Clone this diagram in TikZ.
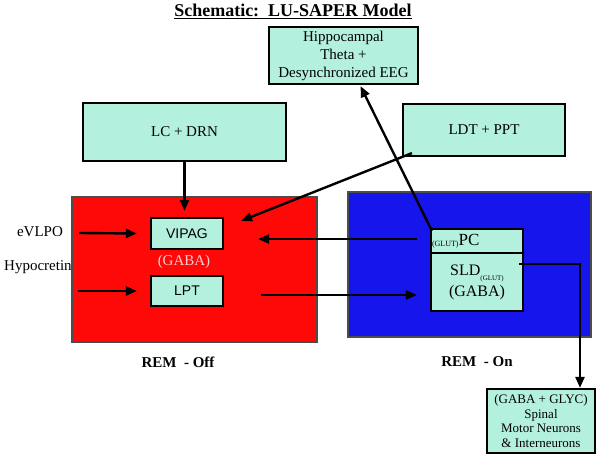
\documentclass[tikz,border=0pt]{standalone}
\usepackage{fontspec}
\setmainfont{Liberation Serif}
\newfontfamily\sansf{Liberation Sans}
\usetikzlibrary{arrows.meta}
\definecolor{boxfill}{RGB}{180,240,222}
\definecolor{offred}{RGB}{255,8,8}
\definecolor{onblue}{RGB}{22,22,236}
\definecolor{gabapink}{RGB}{255,205,210}
\begin{document}
\begin{tikzpicture}[x=1pt,y=-1pt,
  box/.style={draw=black, line width=2.2pt, fill=boxfill, inner sep=0pt, align=center},
  region/.style={draw=black!70, line width=1.2pt, inner sep=0pt},
  arr/.style={line width=2.4pt, -{Triangle[length=11pt,width=9pt]}},
  lbl/.style={inner sep=0pt, font=\fontsize{15}{18}\selectfont}]
\useasboundingbox[fill=white] (0,0) rectangle (600,457);

% title
\node[inner sep=0pt, font=\bfseries\fontsize{18}{21}\selectfont] (title) at (293,11)
  {\underline{Schematic:\ \ LU-SAPER\ Model}};

% side labels
\node[lbl] (evlpo) at (40,232) {eVLPO};
\node[lbl, anchor=west] (hypo) at (4,267) {Hypocretin};

% regions
\node[region, fill=offred, minimum width=245pt, minimum height=145pt] (off) at (194.5,269.5) {};
\node[region, fill=onblue, minimum width=243pt, minimum height=145pt] (on) at (469.5,264.5) {};

% boxes
\node[box, minimum width=149pt, minimum height=57pt, font=\fontsize{15}{18}\selectfont] (hippo) at (343.5,55.5)
  {Hippocampal\\Theta +\\Desynchronized EEG};
\node[box, minimum width=203pt, minimum height=58pt, font=\fontsize{15}{18}\selectfont] (lc) at (184.5,132) {LC + DRN};
\node[box, minimum width=162pt, minimum height=52pt, font=\fontsize{15}{18}\selectfont] (ldt) at (484,130) {LDT + PPT};
\node[box, minimum width=72pt, minimum height=31pt, font=\sansf\fontsize{14}{17}\selectfont] (vipag) at (187,233.5) {VIPAG};
\node[box, minimum width=72pt, minimum height=30pt, font=\sansf\fontsize{14}{17}\selectfont] (lpt) at (187,291) {LPT};
\node[lbl, text=gabapink] (gaba) at (184,262) {(GABA)};
\node[box, minimum width=92pt, minimum height=24pt, text width=90pt, align=left, inner sep=1pt,
  font=\fontsize{17}{19}\selectfont] (pc) at (477,241)
  {\raisebox{-1pt}{\fontsize{8}{9}\selectfont(GLUT)}PC};
\node[box, minimum width=92pt, minimum height=58pt, font=\fontsize{16}{21}\selectfont] (sld) at (477,282)
  {SLD\raisebox{-5pt}{\fontsize{7}{8}\selectfont(GLUT)}\\(GABA)};
\node[box, minimum width=108pt, minimum height=64pt, font=\fontsize{13}{14.5}\selectfont] (spinal) at (541,421)
  {(GABA + GLYC)\\Spinal\\Motor Neurons\\\& Interneurons};

% state labels
\node[lbl, font=\bfseries\fontsize{15}{18}\selectfont] (remoff) at (178,362) {REM\ \ -\ Off};
\node[lbl, font=\bfseries\fontsize{15}{18}\selectfont] (remon) at (477,362) {REM\ \ -\ On};

% connectors
\draw[arr, shorten >=6pt] (lc.south) -- (lc.south |- vipag.north);
\draw[arr] ([shift={(10,-4)}]ldt.south west) -- ([shift={(17,4)}]vipag.north east);
\draw[arr] ([shift={(2,3)}]pc.north west) -- ([shift={(17,1)}]hippo.south);
\draw[arr] ([shift={(-13,-2)}]pc.west) -- ([shift={(34,-2)}]pc.west -| vipag.east);
\draw[arr] ([shift={(37,4)}]lpt.east) -- ([shift={(-13,13)}]sld.west);
\draw[arr] ([xshift=16pt,yshift=-1pt]evlpo.east) -- ([xshift=-13pt]vipag.west);
\draw[arr] ([shift={(6,24)}]hypo.east) -- ([xshift=-13pt]lpt.west);
\draw[arr] ([shift={(-5,-18)}]sld.east) -| ([xshift=39pt]spinal.north);
\end{tikzpicture}
\end{document}
